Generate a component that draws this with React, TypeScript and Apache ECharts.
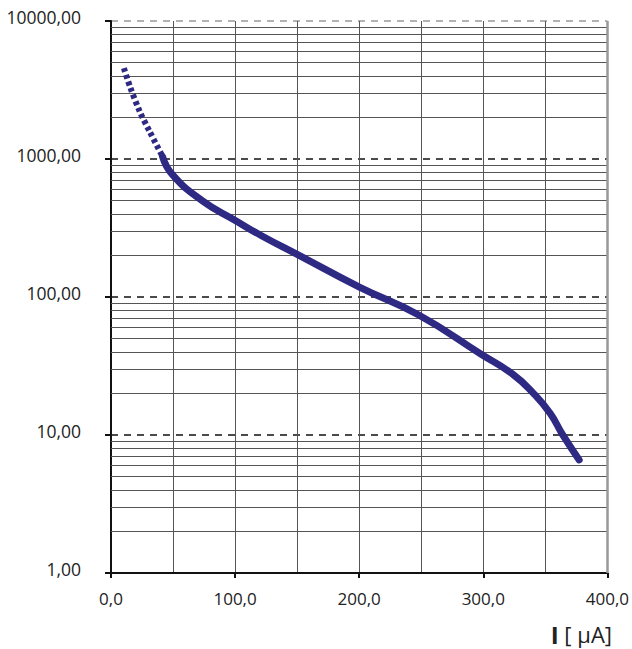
import React, { useEffect, useRef } from "react";
import * as echarts from "echarts";

// Extrapolated (dashed) part of the curve
const dashedCurrent = [10.4, 15.2, 23.1, 31.1, 41.5];
const dashedValue = [4550, 3365, 2215, 1585, 1043];

// Measured (solid) part of the curve
const solidCurrent = [41.5, 49.5, 73.4, 100.5, 121.3, 150.8, 200.2, 248, 298.3, 323.9, 341, 354, 363.8, 377.3];
const solidValue = [1043, 771, 499, 357, 278, 202, 118, 74, 38.5, 27.5, 19.8, 14.3, 10.1, 6.6];

const decades = [1, 10, 100, 1000];
const minorSteps = [2, 3, 4, 5, 6, 7, 8, 9];

const FONT = "Open Sans";
const CURVE = "#2e2983";

export default function App() {
  const ref = useRef<HTMLDivElement>(null);
  useEffect(() => {
    if (!ref.current) return;
    const chart = echarts.init(ref.current, null, { renderer: "svg" });
    const minorLines = decades.flatMap((d) => minorSteps.map((k) => k * d));
    chart.setOption({
      animation: false,
      backgroundColor: "#fff",
      grid: { left: 111, right: 20, top: 21, bottom: 76 },
      xAxis: {
        type: "value",
        min: 0,
        max: 400,
        interval: 100,
        axisLine: { show: true, onZero: false, lineStyle: { color: "#111", width: 2 } },
        axisTick: { show: true, length: 5, lineStyle: { color: "#111", width: 2 } },
        axisLabel: {
          margin: 17,
          fontFamily: FONT,
          fontSize: 17,
          color: "#222",
          formatter: (v: number) => v.toFixed(1).replace(".", ","),
        },
        splitLine: { show: true, lineStyle: { color: ["#555", "#555", "#555", "#555", "#999"], width: 1 } },
        minorTick: { show: false, splitNumber: 2 },
        minorSplitLine: { show: true, lineStyle: { color: "#555", width: 1 } },
      },
      yAxis: {
        type: "log",
        logBase: 10,
        min: 1,
        max: 10000,
        axisLine: { show: true, lineStyle: { color: "#111", width: 2 } },
        axisTick: { show: true, length: 6, lineStyle: { color: "#111", width: 2 } },
        axisLabel: {
          margin: 30,
          fontFamily: FONT,
          fontSize: 17.5,
          color: "#222",
          verticalAlign: "bottom",
          lineHeight: 8,
          formatter: (v: number) => v.toFixed(2).replace(".", ","),
        },
        splitLine: {
          show: true,
          lineStyle: { color: ["#111", "#111", "#111", "#111", "#999"], type: [7, 6], width: 1.5 },
        },
      },
      series: [
        {
          type: "line",
          data: [],
          markLine: {
            silent: true,
            symbol: "none",
            label: { show: false },
            animation: false,
            data: [
              ...minorLines.map((v) => ({ yAxis: v, lineStyle: { color: "#555", width: 1, type: "solid" } })),
              { xAxis: 400, lineStyle: { color: "#999", width: 2.5, type: "solid" } },
            ],
          },
        },
        {
          type: "line",
          data: dashedCurrent.map((c, i) => [c, dashedValue[i]]),
          smooth: 0.3,
          showSymbol: false,
          lineStyle: { color: CURVE, width: 6, type: [4, 3] },
          z: 5,
        },
        {
          type: "line",
          data: solidCurrent.map((c, i) => [c, solidValue[i]]),
          smooth: 0.5,
          showSymbol: false,
          lineStyle: { color: CURVE, width: 7, cap: "round" },
          z: 5,
        },
      ],
      graphic: [
        {
          type: "text",
          x: 612,
          y: 634,
          style: {
            text: "{b|I} [ μA]",
            align: "right",
            verticalAlign: "middle",
            fontFamily: FONT,
            fontSize: 22,
            lineHeight: 24,
            fill: "#222",
            rich: { b: { fontFamily: FONT, fontSize: 24, lineHeight: 24, fontWeight: "bold", fill: "#222" } },
          },
        },
      ],
    });
    return () => chart.dispose();
  }, []);
  return <div ref={ref} style={{ position: "fixed", left: 0, top: 0, width: 632, height: 649 }} />;
}
